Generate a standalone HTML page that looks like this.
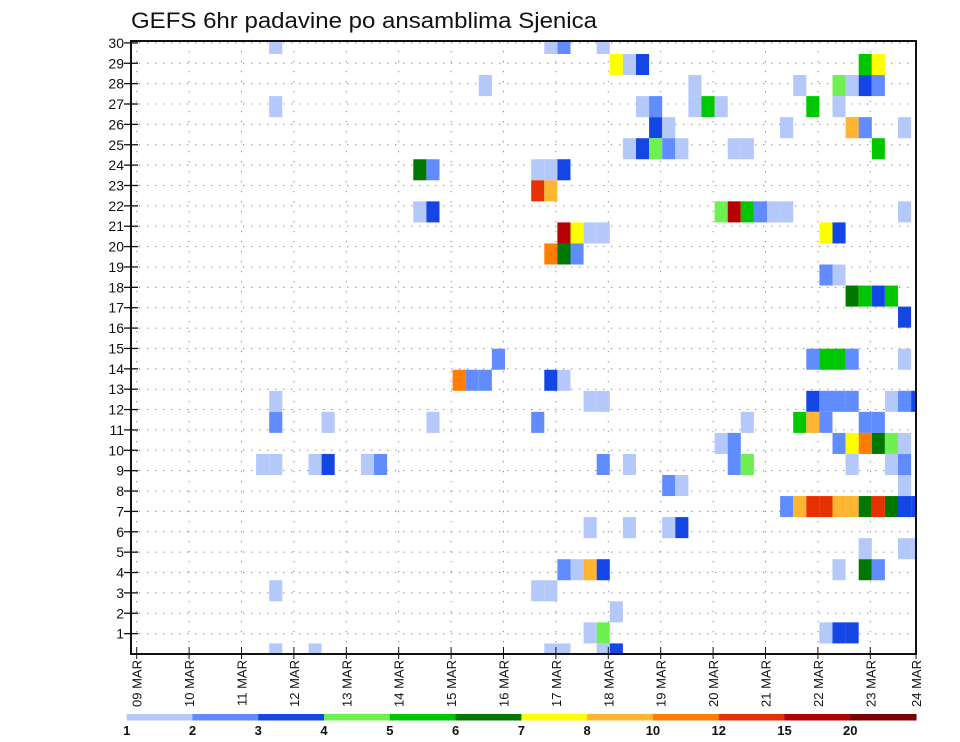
<!DOCTYPE html>
<html><head><meta charset="utf-8"><title>GEFS 6hr padavine po ansamblima Sjenica</title>
<style>
html,body{margin:0;padding:0;background:#fff;}
svg{display:block;font-family:"Liberation Sans",sans-serif;}
</style></head>
<body>
<svg id="chart" width="960" height="742" viewBox="0 0 960 742" xmlns="http://www.w3.org/2000/svg">
<text x="131" y="28" font-size="22" textLength="466" lengthAdjust="spacingAndGlyphs" fill="#111">GEFS 6hr padavine po ansamblima Sjenica</text>
<defs><clipPath id="plotclip"><rect x="131" y="41" width="785" height="613"/></clipPath></defs>
<g id="grid"></g>
<g id="cells" clip-path="url(#plotclip)"></g>
<rect x="131" y="41" width="785" height="613" fill="none" stroke="#111" stroke-width="2"/>
<g id="yaxis"></g>
<g id="xaxis"></g>
<g id="legend"></g>
</svg>
<script>
// ---- data ----
const dayLabels = ["09 MAR","10 MAR","11 MAR","12 MAR","13 MAR","14 MAR","15 MAR","16 MAR","17 MAR","18 MAR","19 MAR","20 MAR","21 MAR","22 MAR","23 MAR","24 MAR"];
const memberTicks = [1,2,3,4,5,6,7,8,9,10,11,12,13,14,15,16,17,18,19,20,21,22,23,24,25,26,27,28,29,30];
const legendBounds = [1,2,3,4,5,6,7,8,10,12,15,20,30];
const legendLabels = ["1","2","3","4","5","6","7","8","10","12","15","20"];
const legendColors = ["#b4c8fa","#608cff","#1446e6","#6ef050","#00c800","#007800","#ffff00","#ffb432","#ff7d00","#e63200","#b40000","#780000"];
// cells: 6-hour step index, ensemble member, precipitation (mm)
const cellStep = [
10,31,32,35, 36,37,38,55,56, 26,42,50,53,54,55,56, 10,38,39,42,43,44,51,53, 39,40,49,54,55,58,
37,38,39,40,41,45,46,56, 21,22,30,31,32, 30,31, 21,22,44,45,46,47,48,49,58, 32,33,34,35,52,53,
31,32,33, 52,53, 54,55,56,57, 58, 27,51,52,53,54,58, 24,25,26,31,32,
10,34,35,51,52,53,54,57,58,59, 10,14,22,30,46,50,51,52,55,56, 44,45,53,54,55,56,57,58,
9,10,13,14,17,18,35,37,45,46,54,57,58, 40,41,58, 49,50,51,52,53,54,55,56,57,58,59,
34,37,40,41, 55,58,59, 32,33,34,35,53,55,56, 10,30,31, 36, 34,35,52,53,54, 10,13,31,32,35,36];
const cellMember = [
30,30,30,30, 29,29,29,29,29, 28,28,28,28,28,28,28, 27,27,27,27,27,27,27,27, 26,26,26,26,26,26,
25,25,25,25,25,25,25,25, 24,24,24,24,24, 23,23, 22,22,22,22,22,22,22,22,22, 21,21,21,21,21,21,
20,20,20, 19,19, 18,18,18,18, 17, 15,15,15,15,15,15, 14,14,14,14,14,
13,13,13,13,13,13,13,13,13,13, 12,12,12,12,12,12,12,12,12,12, 11,11,11,11,11,11,11,11,
10,10,10,10,10,10,10,10,10,10,10,10,10, 9,9,9, 8,8,8,8,8,8,8,8,8,8,8,
7,7,7,7, 6,6,6, 5,5,5,5,5,5,5, 4,4,4, 3, 2,2,2,2,2, 1,1,1,1,1,1];
const cellValue = [
1.5,1.5,2.5,1.5, 7.5,1.5,3.5,5.5,7.5, 1.5,1.5,1.5,4.5,1.5,3.5,2.5, 1.5,1.5,2.5,1.5,5.5,1.5,5.5,1.5, 3.5,1.5,1.5,9,2.5,1.5,
1.5,3.5,4.5,2.5,1.5,1.5,1.5,5.5, 6.5,2.5,1.5,1.5,3.5, 13,9, 1.5,3.5,4.5,17,5.5,2.5,1.5,1.5,1.5, 17,7.5,1.5,1.5,7.5,3.5,
11,6.5,2.5, 2.5,1.5, 6.5,5.5,3.5,5.5, 3.5, 2.5,2.5,5.5,5.5,2.5,1.5, 11,2.5,2.5,3.5,1.5,
1.5,1.5,1.5,3.5,2.5,2.5,2.5,1.5,2.5,3.5, 2.5,1.5,1.5,2.5,1.5,5.5,9,2.5,2.5,2.5, 1.5,2.5,2.5,7.5,11,6.5,4.5,1.5,
1.5,1.5,1.5,3.5,1.5,2.5,2.5,1.5,2.5,4.5,1.5,1.5,2.5, 2.5,1.5,1.5, 2.5,9,13,13,9,9,6.5,13,6.5,3.5,3.5,
1.5,1.5,1.5,3.5, 1.5,1.5,1.5, 2.5,1.5,9,3.5,1.5,6.5,2.5, 1.5,1.5,1.5, 1.5, 1.5,4.5,1.5,3.5,3.5, 1.5,1.5,1.5,1.5,1.5,3.5];

// ---- scales ----
const NS="http://www.w3.org/2000/svg";
const X0=136.7, DAY=52.4, STEP=DAY/4, CELL_OFF=1.5;
const PL=131, PR=916, PT=41, PB=654;
function xDay(d){return X0+d*DAY;}
function xStep(s){return X0+CELL_OFF+s*STEP;}
function yTick(m){return 654-m*20.37;}
function yCellTop(m){return 54+(30-m)*21.05-21.05;}
const CELL_H=21.05;
function colorFor(v){let i=0;for(let k=0;k<legendBounds.length-1;k++){if(v>=legendBounds[k])i=k;}return legendColors[i];}
function mk(tag,attrs,parent){const e=document.createElementNS(NS,tag);for(const k in attrs)e.setAttribute(k,attrs[k]);parent.appendChild(e);return e;}

// grid
const grid=document.getElementById('grid');
memberTicks.forEach(m=>{
  const l=mk('line',{x1:PL,x2:PR,y1:yTick(m),y2:yTick(m),stroke:'#888','stroke-width':1,'stroke-dasharray':'1.3,6.7'},grid);
  
  
});
dayLabels.forEach((d,i)=>{
  const x=xDay(i); if(x>PR) return;
  const l=mk('line',{x1:x,x2:x,y1:PT,y2:PB,stroke:'#888','stroke-width':1,'stroke-dasharray':'1.3,8.7'},grid);
  
  
});

// cells
const cells=document.getElementById('cells');
for(let i=0;i<cellStep.length;i++){
  const r=mk('rect',{x:xStep(cellStep[i]),y:yCellTop(cellMember[i]),width:STEP,height:CELL_H,fill:colorFor(cellValue[i])},cells);
  
  
}

// y axis
const ya=document.getElementById('yaxis');
memberTicks.forEach(m=>{
  const y=yTick(m);
  mk('line',{x1:PL-7,x2:PL+7,y1:y,y2:y,stroke:'#111','stroke-width':1.3},ya);
  const t=mk('text',{x:PL-7,y:y+5,'font-size':14,'text-anchor':'end',fill:'#111'},ya);
  t.textContent=m;
  
  
});

// x axis
const xa=document.getElementById('xaxis');
dayLabels.forEach((d,i)=>{
  const x=xDay(i); const xx=Math.min(x,PR);
  mk('line',{x1:xx,x2:xx,y1:PB-7,y2:PB+5,stroke:'#111','stroke-width':1},xa);
  const t=mk('text',{x:0,y:0,'font-size':13,'text-anchor':'end',fill:'#111',transform:`translate(${Math.min(x,PR)+5},${PB+6}) rotate(-90)`},xa);
  t.textContent=d;
  
  
});

// legend
const lg=document.getElementById('legend');
const LX=126.7, LW=65.78;
legendColors.forEach((c,i)=>{
  const r=mk('rect',{x:LX+i*LW,y:714,width:LW+0.5,height:6.5,fill:c},lg);
  
  
  const t=mk('text',{x:LX+i*LW,y:735,'font-size':13,'font-weight':'bold','text-anchor':'middle',fill:'#111'},lg);
  t.textContent=legendLabels[i];
  
  
});
</script>
</body></html>
